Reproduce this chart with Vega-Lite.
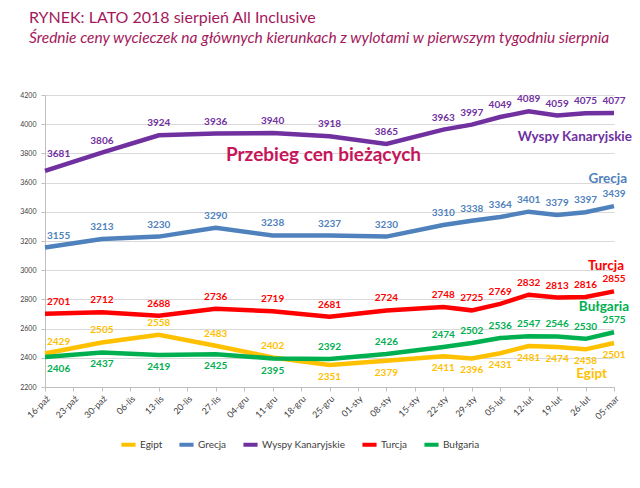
{
  "$schema": "https://vega.github.io/schema/vega-lite/v6.json",
  "width": 569,
  "height": 292,
  "autosize": {"type": "none"},
  "padding": {"left": 45, "top": 95, "right": 26, "bottom": 101},
  "background": "white",
  "title": {
    "text": "RYNEK: LATO 2018 sierpień All Inclusive",
    "subtitle": "Średnie ceny wycieczek na głównych kierunkach z wylotami w pierwszym tygodniu sierpnia",
    "anchor": "start",
    "frame": "group",
    "dx": -16,
    "offset": 45,
    "font": "Lato",
    "fontSize": 16,
    "fontWeight": "normal",
    "color": "#a3195b",
    "subtitleFont": "Lato",
    "subtitleFontSize": 15.5,
    "subtitleFontStyle": "italic",
    "subtitleColor": "#a3195b",
    "subtitlePadding": 5
  },
  "config": {
    "font": "Lato",
    "view": {"stroke": null},
    "axis": {
      "labelColor": "#404040",
      "domainColor": "#bfbfbf",
      "tickColor": "#bfbfbf",
      "gridColor": "#d9d9d9",
      "labelFont": "Lato",
      "labelOverlap": false
    }
  },
  "datasets": {
    "prices": [
      {"d": "16-paź", "s": "Egipt", "v": 2429},
      {"d": "30-paź", "s": "Egipt", "v": 2505},
      {"d": "13-lis", "s": "Egipt", "v": 2558},
      {"d": "27-lis", "s": "Egipt", "v": 2483},
      {"d": "11-gru", "s": "Egipt", "v": 2402},
      {"d": "25-gru", "s": "Egipt", "v": 2351},
      {"d": "08-sty", "s": "Egipt", "v": 2379},
      {"d": "22-sty", "s": "Egipt", "v": 2411},
      {"d": "29-sty", "s": "Egipt", "v": 2396},
      {"d": "05-lut", "s": "Egipt", "v": 2431},
      {"d": "12-lut", "s": "Egipt", "v": 2481},
      {"d": "19-lut", "s": "Egipt", "v": 2474},
      {"d": "26-lut", "s": "Egipt", "v": 2458},
      {"d": "05-mar", "s": "Egipt", "v": 2501},
      {"d": "16-paź", "s": "Grecja", "v": 3155},
      {"d": "30-paź", "s": "Grecja", "v": 3213},
      {"d": "13-lis", "s": "Grecja", "v": 3230},
      {"d": "27-lis", "s": "Grecja", "v": 3290},
      {"d": "11-gru", "s": "Grecja", "v": 3238},
      {"d": "25-gru", "s": "Grecja", "v": 3237},
      {"d": "08-sty", "s": "Grecja", "v": 3230},
      {"d": "22-sty", "s": "Grecja", "v": 3310},
      {"d": "29-sty", "s": "Grecja", "v": 3338},
      {"d": "05-lut", "s": "Grecja", "v": 3364},
      {"d": "12-lut", "s": "Grecja", "v": 3401},
      {"d": "19-lut", "s": "Grecja", "v": 3379},
      {"d": "26-lut", "s": "Grecja", "v": 3397},
      {"d": "05-mar", "s": "Grecja", "v": 3439},
      {"d": "16-paź", "s": "Wyspy Kanaryjskie", "v": 3681},
      {"d": "30-paź", "s": "Wyspy Kanaryjskie", "v": 3806},
      {"d": "13-lis", "s": "Wyspy Kanaryjskie", "v": 3924},
      {"d": "27-lis", "s": "Wyspy Kanaryjskie", "v": 3936},
      {"d": "11-gru", "s": "Wyspy Kanaryjskie", "v": 3940},
      {"d": "25-gru", "s": "Wyspy Kanaryjskie", "v": 3918},
      {"d": "08-sty", "s": "Wyspy Kanaryjskie", "v": 3865},
      {"d": "22-sty", "s": "Wyspy Kanaryjskie", "v": 3963},
      {"d": "29-sty", "s": "Wyspy Kanaryjskie", "v": 3997},
      {"d": "05-lut", "s": "Wyspy Kanaryjskie", "v": 4049},
      {"d": "12-lut", "s": "Wyspy Kanaryjskie", "v": 4089},
      {"d": "19-lut", "s": "Wyspy Kanaryjskie", "v": 4059},
      {"d": "26-lut", "s": "Wyspy Kanaryjskie", "v": 4075},
      {"d": "05-mar", "s": "Wyspy Kanaryjskie", "v": 4077},
      {"d": "16-paź", "s": "Turcja", "v": 2701},
      {"d": "30-paź", "s": "Turcja", "v": 2712},
      {"d": "13-lis", "s": "Turcja", "v": 2688},
      {"d": "27-lis", "s": "Turcja", "v": 2736},
      {"d": "11-gru", "s": "Turcja", "v": 2719},
      {"d": "25-gru", "s": "Turcja", "v": 2681},
      {"d": "08-sty", "s": "Turcja", "v": 2724},
      {"d": "22-sty", "s": "Turcja", "v": 2748},
      {"d": "29-sty", "s": "Turcja", "v": 2725},
      {"d": "05-lut", "s": "Turcja", "v": 2769},
      {"d": "12-lut", "s": "Turcja", "v": 2832},
      {"d": "19-lut", "s": "Turcja", "v": 2813},
      {"d": "26-lut", "s": "Turcja", "v": 2816},
      {"d": "05-mar", "s": "Turcja", "v": 2855},
      {"d": "16-paź", "s": "Bułgaria", "v": 2406},
      {"d": "30-paź", "s": "Bułgaria", "v": 2437},
      {"d": "13-lis", "s": "Bułgaria", "v": 2419},
      {"d": "27-lis", "s": "Bułgaria", "v": 2425},
      {"d": "11-gru", "s": "Bułgaria", "v": 2395},
      {"d": "25-gru", "s": "Bułgaria", "v": 2392},
      {"d": "08-sty", "s": "Bułgaria", "v": 2426},
      {"d": "22-sty", "s": "Bułgaria", "v": 2474},
      {"d": "29-sty", "s": "Bułgaria", "v": 2502},
      {"d": "05-lut", "s": "Bułgaria", "v": 2536},
      {"d": "12-lut", "s": "Bułgaria", "v": 2547},
      {"d": "19-lut", "s": "Bułgaria", "v": 2546},
      {"d": "26-lut", "s": "Bułgaria", "v": 2530},
      {"d": "05-mar", "s": "Bułgaria", "v": 2575}
    ],
    "names": [
      {"s": "Wyspy Kanaryjskie", "v": 3915},
      {"s": "Grecja", "v": 3625},
      {"s": "Turcja", "v": 3030},
      {"s": "Bułgaria", "v": 2750},
      {"s": "Egipt", "v": 2290}
    ],
    "note": [{"t": "Przebieg cen bieżących"}]
  },
  "layer": [
    {
      "data": {"name": "prices"},
      "mark": {"type": "line", "strokeWidth": 4.5},
      "encoding": {
        "x": {
          "field": "d",
          "type": "ordinal",
          "scale": {
            "type": "point",
            "padding": 0,
            "domain": ["16-paź","23-paź","30-paź","06-lis","13-lis","20-lis","27-lis","04-gru","11-gru","18-gru","25-gru","01-sty","08-sty","15-sty","22-sty","29-sty","05-lut","12-lut","19-lut","26-lut","05-mar"]
          },
          "axis": {
            "title": null,
            "labelAngle": -45,
            "labelFontSize": 9,
            "labelPadding": 3,
            "tickSize": 4,
            "grid": false,
            "labelOverlap": false
          }
        },
        "y": {
          "field": "v",
          "type": "quantitative",
          "scale": {"domain": [2200, 4200], "nice": false, "zero": false},
          "axis": {
            "title": null,
            "values": [2200, 2400, 2600, 2800, 3000, 3200, 3400, 3600, 3800, 4000, 4200],
            "format": "d",
            "labelOverlap": false,
            "labelFontSize": 7,
            "tickSize": 4,
            "labelPadding": 5,
            "grid": true
          }
        },
        "color": {
          "field": "s",
          "type": "nominal",
          "scale": {
            "domain": ["Egipt", "Grecja", "Wyspy Kanaryjskie", "Turcja", "Bułgaria"],
            "range": ["#ffc000", "#4f81bd", "#7030a0", "#ff0000", "#00b050"]
          },
          "legend": {
            "title": null,
            "orient": "none",
            "direction": "horizontal",
            "legendX": 74,
            "legendY": 340,
            "symbolType": "stroke",
            "symbolStrokeWidth": 4,
            "symbolSize": 200,
            "labelFontSize": 10,
            "labelColor": "#404040",
            "labelOffset": 2,
            "columnPadding": 8
          }
        },
        "order": {"value": null}
      }
    },
    {
      "data": {"name": "prices"},
      "mark": {
        "type": "text",
        "fontWeight": "bold",
        "fontSize": 10,
        "baseline": "middle",
        "align": {"expr": "datum.d == '16-paź' ? 'left' : 'center'"},
        "dx": {"expr": "datum.d == '16-paź' ? 2 : 0"},
        "dy": {"expr": "((datum.s == 'Egipt' && indexof(['16-paź','30-paź','13-lis','27-lis','11-gru'], datum.d) < 0) || (datum.s == 'Bułgaria' && indexof(['16-paź','30-paź','13-lis','27-lis','11-gru'], datum.d) >= 0)) ? 12 : ((datum.s == 'Wyspy Kanaryjskie' && datum.d == '16-paź') ? -17 : -12)"}
      },
      "encoding": {
        "x": {
          "field": "d",
          "type": "ordinal",
          "axis": {"title": null, "labelAngle": -45, "labelFontSize": 9, "labelPadding": 3, "tickSize": 4, "grid": false, "labelOverlap": false}
        },
        "y": {
          "field": "v",
          "type": "quantitative",
          "axis": {"title": null, "values": [2200, 2400, 2600, 2800, 3000, 3200, 3400, 3600, 3800, 4000, 4200], "format": "d", "labelOverlap": false, "labelFontSize": 7, "tickSize": 4, "labelPadding": 5, "grid": true}
        },
        "text": {"field": "v", "type": "quantitative", "format": "d"},
        "color": {"field": "s", "type": "nominal", "legend": null}
      }
    },
    {
      "data": {"name": "names"},
      "mark": {
        "type": "text",
        "fontWeight": "bold",
        "fontSize": 13.5,
        "baseline": "middle",
        "align": "right",
        "dx": {"expr": "datum.s == 'Wyspy Kanaryjskie' ? 18 : datum.s == 'Grecja' ? 13 : datum.s == 'Turcja' ? 10 : datum.s == 'Bułgaria' ? 15 : -7"}
      },
      "encoding": {
        "x": {
          "datum": "05-mar",
          "type": "ordinal",
          "axis": {"title": null, "labelAngle": -45, "labelFontSize": 9, "labelPadding": 3, "tickSize": 4, "grid": false, "labelOverlap": false}
        },
        "y": {
          "field": "v",
          "type": "quantitative",
          "axis": {"title": null, "values": [2200, 2400, 2600, 2800, 3000, 3200, 3400, 3600, 3800, 4000, 4200], "format": "d", "labelOverlap": false, "labelFontSize": 7, "tickSize": 4, "labelPadding": 5, "grid": true}
        },
        "text": {"field": "s"},
        "color": {"field": "s", "type": "nominal", "legend": null}
      }
    },
    {
      "data": {"name": "note"},
      "mark": {
        "type": "text",
        "fontWeight": "bold",
        "fontSize": 19,
        "baseline": "middle",
        "align": "center",
        "dx": -6,
        "color": "#c7155a"
      },
      "encoding": {
        "x": {
          "datum": "25-gru",
          "type": "ordinal",
          "axis": {"title": null, "labelAngle": -45, "labelFontSize": 9, "labelPadding": 3, "tickSize": 4, "grid": false, "labelOverlap": false}
        },
        "y": {
          "datum": 3790,
          "type": "quantitative",
          "axis": {"title": null, "values": [2200, 2400, 2600, 2800, 3000, 3200, 3400, 3600, 3800, 4000, 4200], "format": "d", "labelOverlap": false, "labelFontSize": 7, "tickSize": 4, "labelPadding": 5, "grid": true}
        },
        "text": {"field": "t"}
      }
    }
  ]
}
